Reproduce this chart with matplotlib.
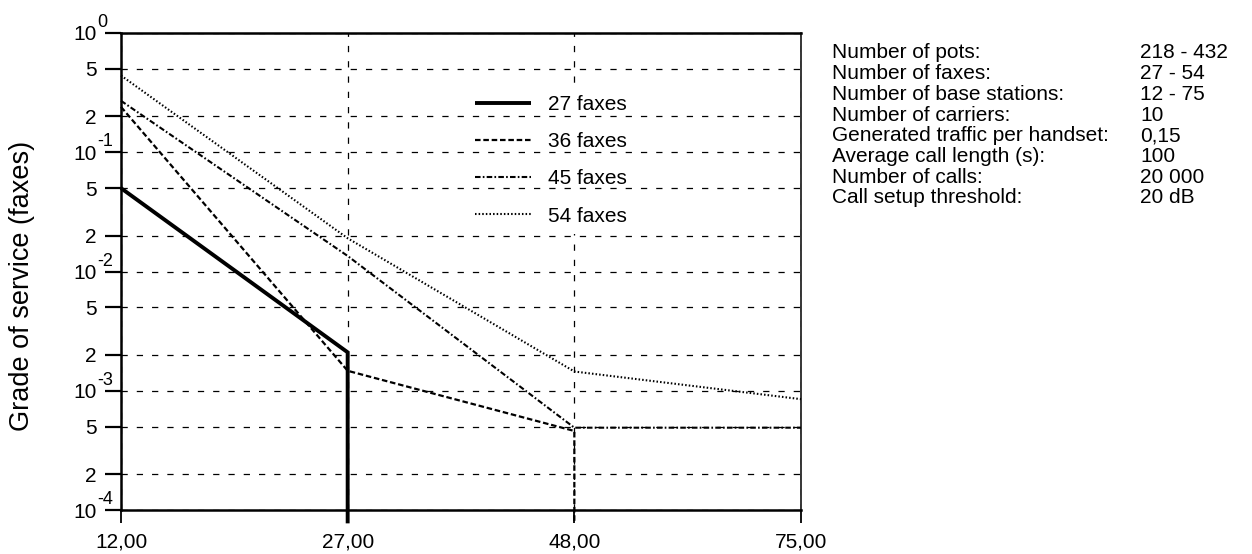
import numpy as np
import matplotlib
matplotlib.use('Agg')
import matplotlib.pyplot as plt
from matplotlib.ticker import NullLocator

plt.rcParams['font.family'] = ['Liberation Sans', 'DejaVu Sans']
plt.rcParams['lines.scale_dashes'] = False

# number of base stations, drawn as evenly spaced categories
base_stations = ['12,00', '27,00', '48,00', '75,00']
# grade of service per fax load (0 = nothing blocked)
gos_27 = [0.05, 2.1e-3, 0, 0]
gos_36 = [0.24, 1.47e-3, 4.6e-4, 0]
gos_45 = [0.27, 1.35e-2, 4.9e-4, 4.9e-4]
gos_54 = [0.44, 1.9e-2, 1.45e-3, 8.5e-4]
series_names = ['27 faxes', '36 faxes', '45 faxes', '54 faxes']

# y ticks: mantissa shown, decades get an exponent
ytick_vals = [1e-4, 2e-4, 5e-4, 1e-3, 2e-3, 5e-3, 1e-2, 2e-2, 5e-2, 1e-1, 2e-1, 5e-1, 1.0]
ytick_text = ['10', '2', '5', '10', '2', '5', '10', '2', '5', '10', '2', '5', '10']
decade_vals = [1e-4, 1e-3, 1e-2, 1e-1, 1.0]
decade_exps = ['-4', '-3', '-2', '-1', '0']

param_labels = ['Number of pots:', 'Number of faxes:', 'Number of base stations:',
                'Number of carriers:', 'Generated traffic per handset:',
                'Average call length (s):', 'Number of calls:', 'Call setup threshold:']
param_values = ['218 - 432', '27 - 54', '12 - 75', '10', '0,15', '100', '20 000', '20 dB']

styles = [dict(ls='-', lw=2.8),
          dict(ls=(0, (4, 2)), lw=1.6),
          dict(ls=(0, (4, 1.6, 1.2, 1.6)), lw=1.5),
          dict(ls=(0, (1.1, 1.5)), lw=1.5)]

fig = plt.figure(figsize=(12.52, 5.54), dpi=100)
ax = fig.add_axes([121/1252, 1-510/554, 680/1252, 477/554])
ax.set_yscale('log')
ax.set_ylim(1e-4, 1)
x = np.arange(len(base_stations))
ax.set_xlim(x[0], x[-1])

lo, hi = ax.get_ylim()
ybot = lo * (hi/lo) ** (-0.028)  # drop lines run just past the axis

for vals, name, st in zip([gos_27, gos_36, gos_45, gos_54], series_names, styles):
    v = np.array(vals, float)
    ok = v > 0
    xs = list(x[ok])
    ys = list(v[ok])
    if not ok.all():
        xs.append(xs[-1])
        ys.append(ybot)
    ax.plot(xs, ys, color='black', clip_on=False, label=name,
            solid_joinstyle='miter', solid_capstyle='butt', zorder=3, **st)

ax.set_xticks(x, base_stations)
ax.set_yticks(ytick_vals, ytick_text)
ax.yaxis.set_minor_locator(NullLocator())
ax.grid(True, ls=(0, (4.5, 6.5)), lw=0.9, color='black')
ax.tick_params(axis='y', length=11.5, width=1.6, pad=5.8, labelsize=15)
ax.tick_params(axis='x', length=9.5, width=1.3, pad=7, labelsize=15)
for s in ['left', 'top', 'bottom']:
    ax.spines[s].set_linewidth(1.8)
ax.spines['right'].set_linewidth(1.1)
# vertical grid sits under the legend box, horizontal grid over it
ax.xaxis.set_zorder(0.5)
ax.yaxis.set_zorder(2.5)

for val, e in zip(decade_vals, decade_exps):
    ax.annotate(e, xy=(0, val), xycoords=('axes fraction', 'data'),
                xytext=(-17, 7.5), textcoords='offset points',
                fontsize=13, ha='left', va='center', annotation_clip=False)

fig.text(22/1252, 1 - 286/554, 'Grade of service (faxes)', rotation=90,
         ha='center', va='center', fontsize=19.5)

leg = ax.legend(loc='upper left', bbox_to_anchor=(0.508, 0.887), frameon=True,
                fancybox=False, fontsize=15, handlelength=2.7, handletextpad=0.8,
                labelspacing=0.87, borderpad=0.4, borderaxespad=0)
leg.get_frame().set_facecolor('white')
leg.get_frame().set_edgecolor('none')
leg.get_frame().set_alpha(1)
leg.set_zorder(1)

# parameter table on the right
renderer = fig.canvas.get_renderer()
for i, (lab, val) in enumerate(zip(param_labels, param_values)):
    yb = 1 - (58.5 + i*20.7)/554
    t = fig.text(832/1252, yb, lab, fontsize=15, va='baseline')
    right = t.get_window_extent(renderer).x1
    vx = max(1140, right + 4) / 1252
    fig.text(vx, yb, val, fontsize=15, va='baseline')

fig.savefig('out.png', dpi=100)
